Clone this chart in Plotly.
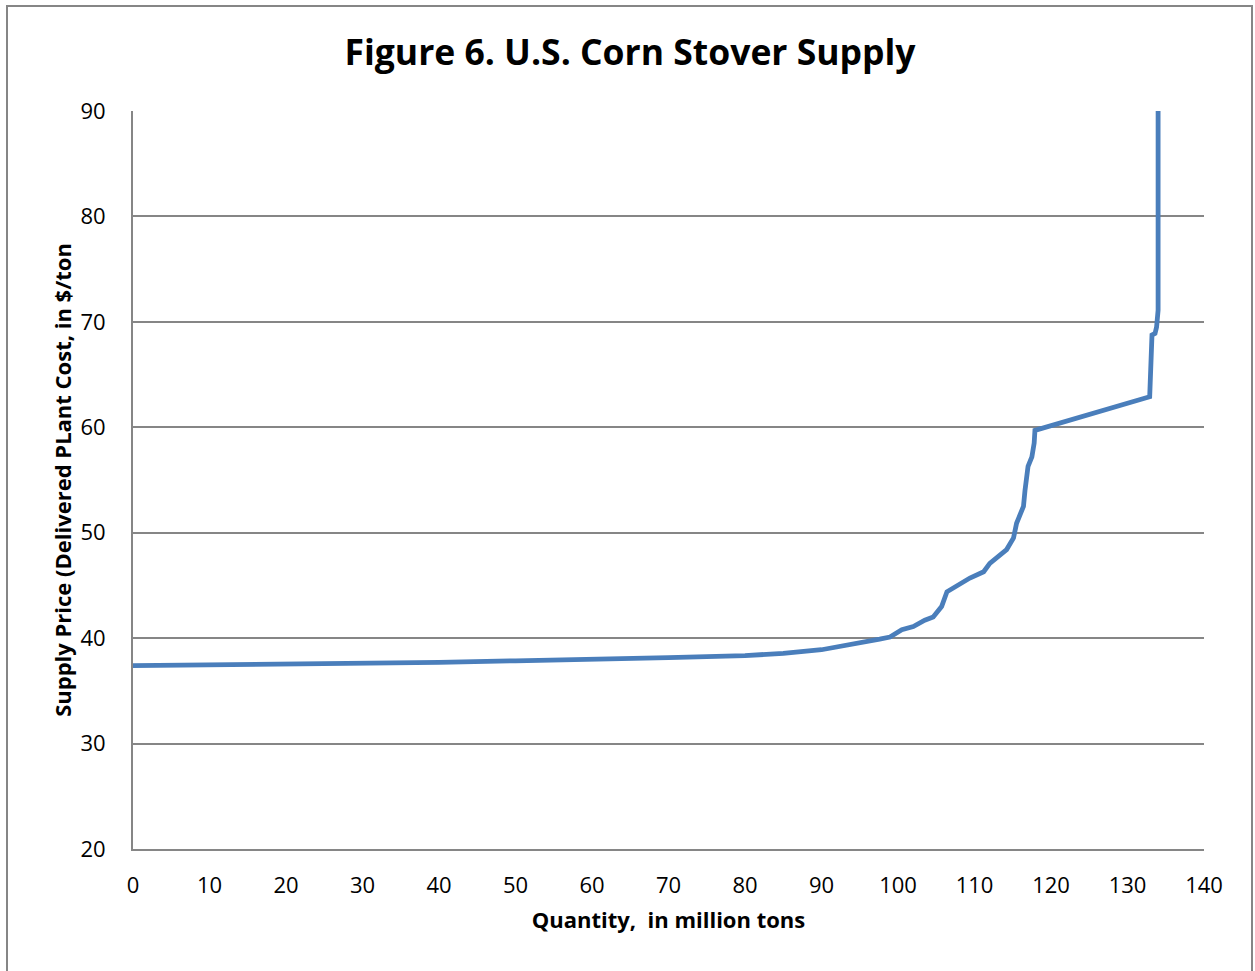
import plotly.graph_objects as go

quantity = [0, 10, 20, 30, 40, 50, 60, 65, 70, 80, 85, 90, 95, 97.6, 98.95, 100.5, 102, 103.5,
            104.6, 105.7, 106.4, 107.7, 109.4, 111.2, 112, 114.2, 115.1, 115.5, 116.4, 116.6,
            117.0, 117.5, 117.8, 117.9, 132.9, 133.2, 133.6, 133.8, 134.0, 134.0, 134.0]
price = [37.4, 37.45, 37.5, 37.6, 37.7, 37.85, 37.95, 38.05, 38.15, 38.35, 38.55, 38.9, 39.5,
         39.9, 40.1, 40.8, 41.1, 41.7, 42.0, 43.0, 44.4, 45.0, 45.7, 46.3, 47.1, 48.4, 49.5,
         50.9, 52.5, 54.0, 56.3, 57.2, 58.5, 59.7, 62.9, 68.75, 68.9, 69.5, 71.1, 80, 90]

x_ticks = list(range(0, 141, 10))
y_ticks = list(range(20, 91, 10))

FONT = "Open Sans"

fig = go.Figure()
fig.add_trace(go.Scatter(x=quantity, y=price, mode="lines",
                         line=dict(color="#4A7EBB", width=4.8), showlegend=False))

W, H = 1255, 971
L, T = 133, 111
R = W - 1204
B = H - 849
pw, ph = W - L - R, H - T - B

fig.update_layout(
    width=W, height=H,
    margin=dict(l=L, r=R, t=T, b=B),
    paper_bgcolor="white", plot_bgcolor="white",
    font=dict(family=FONT, color="black", size=22),
    title=dict(text="<b>Figure 6. U.S. Corn Stover Supply</b>", x=630 / W, xanchor="center",
               y=1 - 53 / H, yanchor="middle", font=dict(family=FONT, size=35.5, color="black")),
    xaxis=dict(range=[0, 140], tickvals=x_ticks, showgrid=False, zeroline=False,
               showline=True, linecolor="#868686", linewidth=2, ticks="",
               tickfont=dict(size=22), ticklabelstandoff=16,
               title=dict(text="<b>Quantity,  in million tons</b>", font=dict(size=22), standoff=14)),
    yaxis=dict(range=[20, 90], tickvals=y_ticks, showgrid=True, gridcolor="#868686", gridwidth=1.5,
               zeroline=False, showline=True, linecolor="#868686", linewidth=2, ticks="",
               tickfont=dict(size=22), ticklabelstandoff=21,
               title=dict(text="<b>Supply Price (Delivered PLant Cost, in $/ton</b>",
                          font=dict(size=22), standoff=3)),
    shapes=[dict(type="rect", xref="paper", yref="paper",
                 x0=(7 - L) / pw, x1=(1252 - L) / pw,
                 y0=-(B + 20) / ph, y1=1 + (T - 6) / ph,
                 line=dict(color="#868686", width=2), fillcolor="rgba(0,0,0,0)", layer="below")],
)

fig.write_html("out.html", config={"displayModeBar": False},
               post_script="document.body.style.margin='0';")
